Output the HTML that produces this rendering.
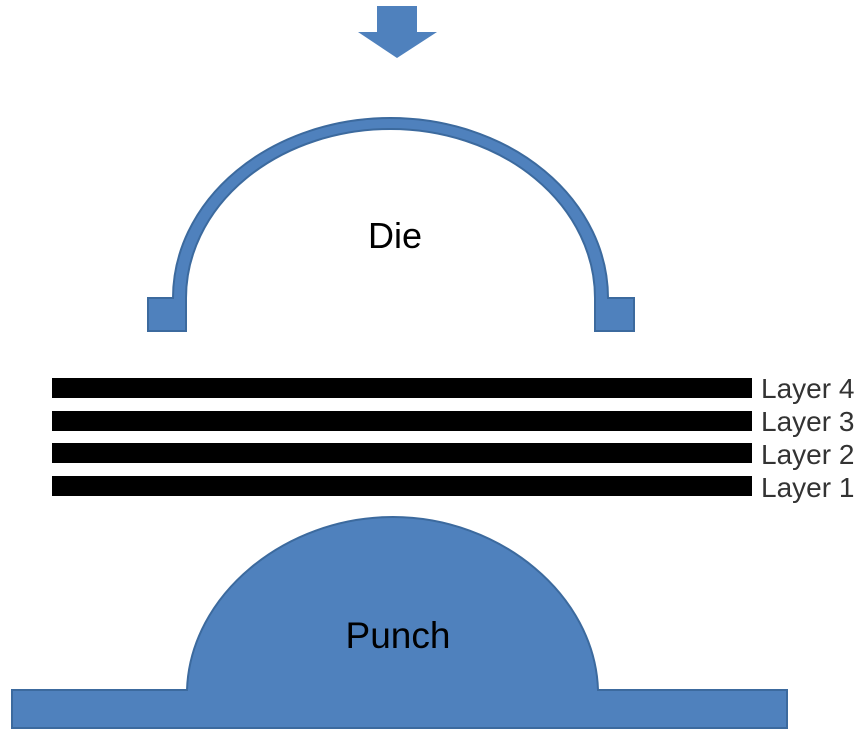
<!DOCTYPE html>
<html><head><meta charset="utf-8"><style>
html,body{margin:0;padding:0;background:#fff;width:866px;height:736px;overflow:hidden}
</style></head><body>
<svg width="866" height="736" viewBox="0 0 866 736" xmlns="http://www.w3.org/2000/svg">
<polygon points="377,6 417,6 417,32 437,32 397,58 358,32 377,32" fill="#4f81bd"/>
<path d="M148,298 L173,298 A217.5,180 0 0 1 608,298 L634,298 L634,331 L595,331 L595,298 A204.5,169 0 0 0 186,298 L186,331 L148,331 Z" fill="#4f81bd" stroke="#3c6a9e" stroke-width="2"/>
<text x="395" y="248" font-family="Liberation Sans, sans-serif" font-size="36" text-anchor="middle" fill="#000">Die</text>
<rect x="52" y="378" width="700" height="20" fill="#000"/>
<rect x="52" y="411" width="700" height="20" fill="#000"/>
<rect x="52" y="443" width="700" height="20" fill="#000"/>
<rect x="52" y="476" width="700" height="20" fill="#000"/>
<g font-family="Liberation Sans, sans-serif" font-size="28" fill="#333">
<text x="761" y="398">Layer 4</text>
<text x="761" y="431">Layer 3</text>
<text x="761" y="464">Layer 2</text>
<text x="761" y="497">Layer 1</text>
</g>
<path d="M12,690 L187,690 C190,595 285,517 393,517 C500,517 595,595 598,690 L787,690 L787,728 L12,728 Z" fill="#4f81bd" stroke="#3c6a9e" stroke-width="2"/>
<text x="398" y="648" font-family="Liberation Sans, sans-serif" font-size="37" text-anchor="middle" fill="#000">Punch</text>
</svg>
</body></html>
